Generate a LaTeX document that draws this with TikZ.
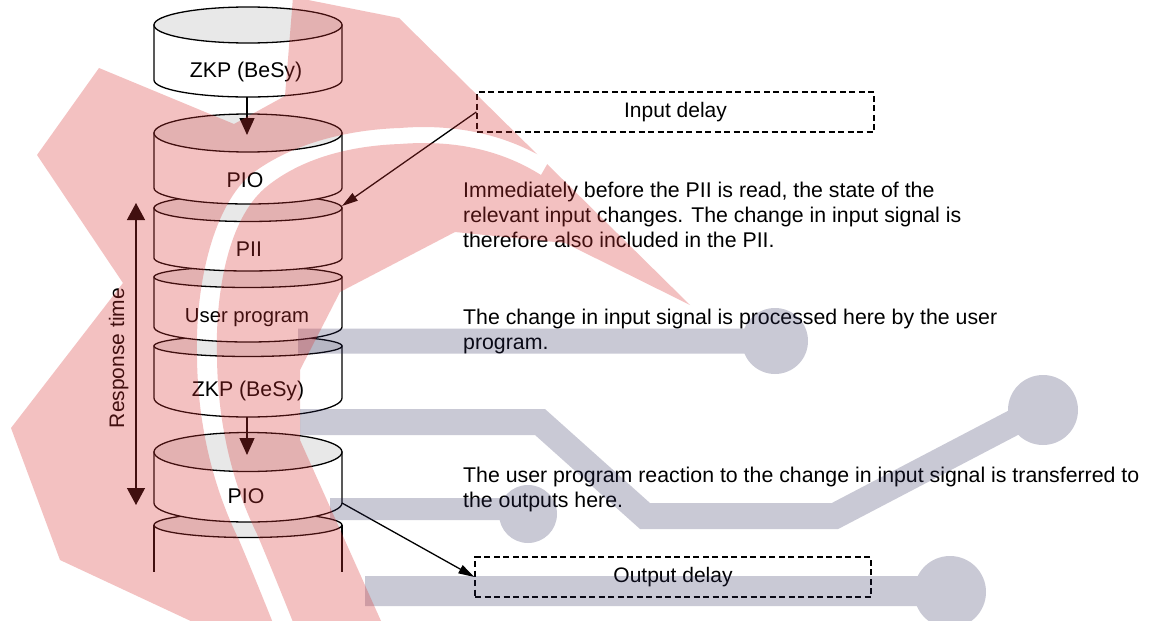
\documentclass[tikz,border=0pt]{standalone}
\usepackage{fontspec}
\setmainfont{Liberation Sans}
\usetikzlibrary{arrows.meta}
\definecolor{pinkov}{RGB}{218,52,52}
\definecolor{grayov}{RGB}{40,40,90}
\definecolor{topgray}{RGB}{232,232,232}
\newcommand{\cylbody}[4]{%
  \filldraw[cylline, fill=white] (154,#1) -- (154,#3) arc[start angle=180, end angle=0, x radius=94, y radius=#4] -- (342,#1) -- cycle;
  \filldraw[cylline, fill=topgray] (248,#1) ellipse[x radius=94, y radius=#2];}
\begin{document}
\begin{tikzpicture}[x=1pt, y=-1pt,
  cylline/.style={draw=black, line width=1.3pt},
  lbl/.style={font=\fontsize{21.3}{24}\selectfont, inner sep=0pt, anchor=base},
  txt/.style={font=\fontsize{21.3}{25}\selectfont, inner sep=0pt, anchor=north west, align=left},
  dbox/.style={draw=black, line width=1.3pt, dash pattern=on 6pt off 3.5pt, minimum width=397pt, minimum height=40pt, inner sep=0pt, font=\fontsize{21}{25}\selectfont},
  bigarrow/.style={draw=black, line width=1.3pt, -{Triangle[length=17pt,width=15pt]}},
  thinarrow/.style={draw=black, line width=1.3pt, -{Triangle[length=16pt,width=9pt]}},
  resparrow/.style={draw=black, line width=1.3pt, {Triangle[length=17pt,width=18pt]}-{Triangle[length=17pt,width=18pt]}}
]
\useasboundingbox (0,0) rectangle (1149,621);
\fill[white] (0,0) rectangle (1149,621);

% cylinders, bottom to top
\fill[white] (154,525) rectangle (342,572);
\draw[cylline] (154,525) -- (154,572);
\draw[cylline] (342,525) -- (342,572);
\filldraw[cylline, fill=topgray] (248,525) ellipse[x radius=94, y radius=12.5];
\cylbody{452}{19.5}{503}{19}
\cylbody{346}{10.5}{398}{19}
\cylbody{277}{10.5}{327}{15}
\cylbody{208}{13.5}{258}{13}
\cylbody{133}{19}{188}{16}
\cylbody{25}{18}{80}{17}

\node[lbl] (l1) at (246,77) {ZKP (BeSy)};
\node[lbl] (l2) at (245,187) {PIO};
\node[lbl] (l3) at (249,256) {PII};
\node[lbl, font=\fontsize{20.3}{24}\selectfont] (l4) at (247,322) {User program};
\node[lbl] (l5) at (248,396) {ZKP (BeSy)};
\node[lbl] (l6) at (246,503) {PIO};

\coordinate (c1b) at (247,97);
\coordinate (c2t) at (247,135);
\coordinate (c5b) at (247,417);
\coordinate (c6t) at (247,455);
\coordinate (c3e) at (342,206);
\coordinate (c6e) at (342,503);
\coordinate (rtop) at (136,203);
\coordinate (rbot) at (136,505);

\draw[bigarrow] (c1b) -- (c2t);
\draw[bigarrow] (c5b) -- (c6t);
\draw[resparrow] (rtop) -- (rbot);
\node[lbl, font=\fontsize{21}{25}\selectfont, rotate=90] (rlbl) at (124,358) {Response time};

\node[dbox] (inbox) at (675.5,112) {Input delay};
\node[dbox, minimum width=396pt] (outbox) at (673,577) {Output delay};
\draw[thinarrow] (inbox.west) -- (c3e);
\draw[thinarrow] (c6e) -- (outbox.west);

\node[txt] (t1) at (463,182) {Immediately before the PII is read, the state of the\\relevant input changes. The change in input signal is\\therefore also included in the PII.};
\node[txt] (t2) at (463,309) {The change in input signal is processed here by the user\\program.};
\node[txt] (t3) at (463,467) {The user program reaction to the change in input signal is transferred to\\the outputs here.};

% watermark: grey circuit
\begin{scope}[transparency group, opacity=0.25]
\draw[grayov, line width=25pt] (298,341) -- (770,341);
\fill[grayov] (775,341) circle[radius=33];
\draw[grayov, line width=26pt] (300,422) -- (540,422) -- (645,516) -- (835,516) -- (1030,414);
\fill[grayov] (1043,410) circle[radius=35];
\draw[grayov, line width=22pt] (330,509) -- (520,509);
\fill[grayov] (528,514) circle[radius=29];
\draw[grayov, line width=30pt] (365,591) -- (940,591);
\fill[grayov] (950,592) circle[radius=36];
\end{scope}

% watermark: red swoosh with white arc cut out
\begin{scope}[even odd rule]
\clip (-20,-20) rectangle (1170,650)
  (549,161) .. controls (502,132) and (450,124) .. (400,128)
  .. controls (338,130) and (284,148) .. (249,176)
  .. controls (211,211) and (195,290) .. (197,358)
  .. controls (198,432) and (216,493) .. (239,540)
  .. controls (253,573) and (269,613) .. (281,643)
  -- (299,637)
  .. controls (287,607) and (271,567) .. (257,534)
  .. controls (234,487) and (218,428) .. (217,358)
  .. controls (215,290) and (229,219) .. (265,188)
  .. controls (296,162) and (342,146) .. (400,144)
  .. controls (450,140) and (498,148) .. (541,175) -- cycle;
\fill[pinkov, opacity=0.3] (99,68) -- (234,124) -- (285,96) -- (293,-3) -- (399,18) -- (690,305) -- (565,243) -- (455,232) -- (340,292) -- (300,370) -- (300,440) -- (381,621) -- (385,635) -- (210,630) -- (60,560) -- (11,428) -- (123,283) -- (37,155) -- cycle;
\end{scope}
\end{tikzpicture}
\end{document}
